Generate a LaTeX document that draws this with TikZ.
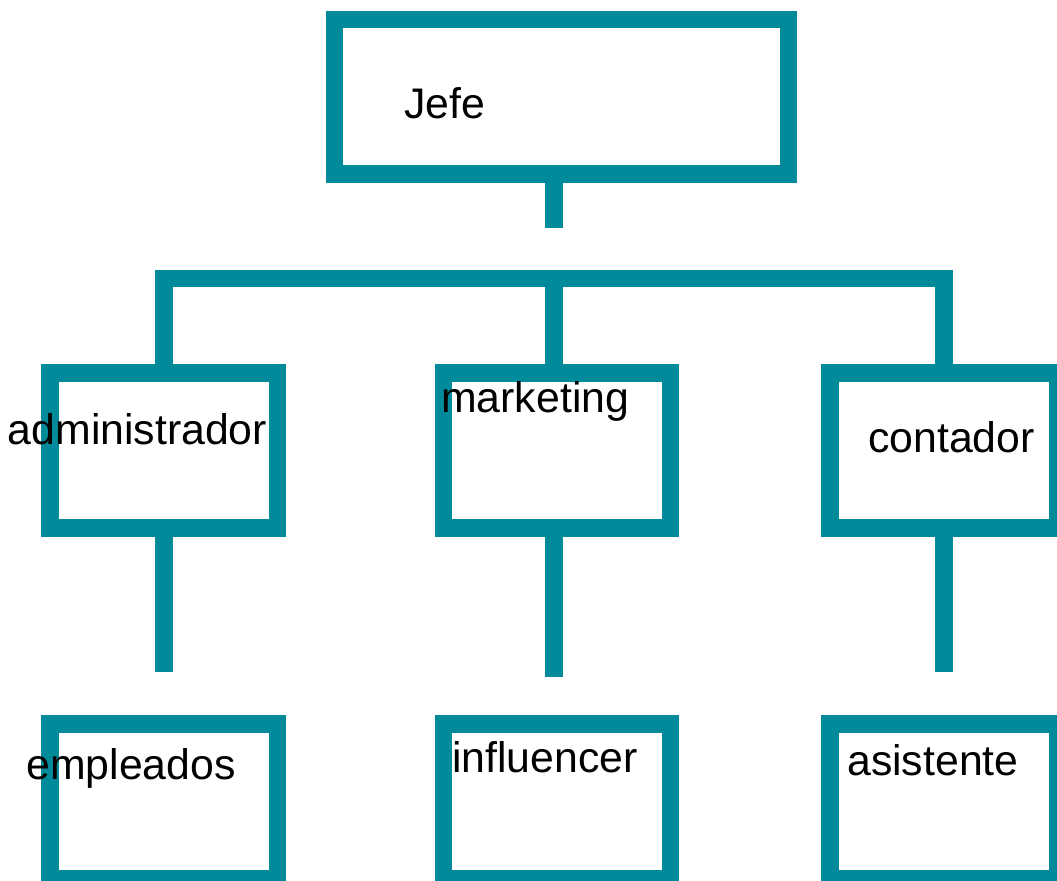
\documentclass[tikz,border=0pt]{standalone}
\usepackage{fontspec}
\setmainfont{Liberation Sans}
\newlength{\du}
\setlength{\du}{0.75pt}
\definecolor{dialinecolor}{RGB}{0,138,154}

\begin{document}
\begin{tikzpicture}[x=\du,y=-\du,
  caja/.style={draw=dialinecolor,line width=17.5\du,inner sep=0pt,minimum width=227.5\du,minimum height=155\du},
  linea/.style={draw=dialinecolor,line width=17.5\du,line cap=butt,line join=miter},
  texto/.style={anchor=base west,inner sep=0pt,font=\fontsize{32.1}{38}\selectfont}]
\useasboundingbox (0,0) rectangle (1057,881);
\clip (0,0) rectangle (1057,881);
% cajas
\node[caja,minimum width=454\du,minimum height=154.5\du] (jefe) at (561.5,96.75) {};
\node[caja] (admin) at (163.75,450.5) {};
\node[caja,minimum width=227\du] (market) at (557,450.5) {};
\node[caja] (contador) at (943.9,450.5) {};
\node[caja,minimum height=154.5\du] (empleados) at (163.75,801.25) {};
\node[caja,minimum width=227\du,minimum height=154.5\du] (influencer) at (557,801.25) {};
\node[caja,minimum height=154.5\du] (asistente) at (943.9,801.25) {};
% lineas
\coordinate (jefefin) at (554,227.7);
\coordinate (barra) at (554,278.5);
\draw[linea] (jefe.south -| jefefin) -- (jefefin);
\draw[linea] (admin.north) |- (barra) -| (contador.north);
\draw[linea] (market.north -| barra) -- (barra);
\coordinate (adminfin) at (164,672);
\coordinate (marketfin) at (554,677);
\coordinate (contadorfin) at (944,672);
\draw[linea] (admin.south -| adminfin) -- (adminfin);
\draw[linea] (market.south -| marketfin) -- (marketfin);
\draw[linea] (contador.south -| contadorfin) -- (contadorfin);
% textos
\node[texto] (jefetxt) at (404,118) {Jefe};
\node[texto] (admintxt) at (7.5,444) {administrador};
\node[texto] (markettxt) at (441,412) {marketing};
\node[texto] (contadortxt) at (868,452) {contador};
\node[texto] (empleadostxt) at (26,779) {empleados};
\node[texto] (influencertxt) at (452,772) {influencer};
\node[texto] (asistentetxt) at (847,775) {asistente};
\end{tikzpicture}
\end{document}
